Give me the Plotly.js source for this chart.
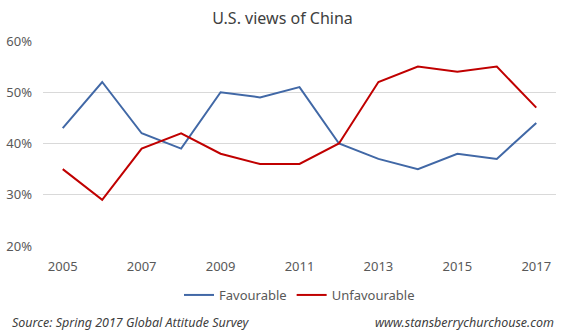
<!DOCTYPE html>
<html>
<head>
<meta charset="utf-8">
<script src="https://cdn.plot.ly/plotly-3.0.1.min.js"></script>
<style>html,body{margin:0;padding:0;background:#fff;}#chart{width:565px;height:330px;}</style>
</head>
<body>
<div id="chart"></div>
<script>
var years = [2005, 2006, 2007, 2008, 2009, 2010, 2011, 2012, 2013, 2014, 2015, 2016, 2017];
var favourable = [43, 52, 42, 39, 50, 49, 51, 40, 37, 35, 38, 37, 44];
var unfavourable = [35, 29, 39, 42, 38, 36, 36, 40, 52, 55, 54, 55, 47];
var yTicks = [20, 30, 40, 50, 60];
var yTickLabels = ['20%', '30%', '40%', '50%', '60%'];

var font = 'Noto Sans, Open Sans, sans-serif';
var traces = [
  {x: years, y: favourable, name: 'Favourable', type: 'scatter', mode: 'lines',
   line: {color: '#4168a6', width: 2}},
  {x: years, y: unfavourable, name: 'Unfavourable', type: 'scatter', mode: 'lines',
   line: {color: '#c00000', width: 2}}
];
var layout = {
  width: 565, height: 330,
  margin: {l: 43, r: 9, t: 41, b: 84},
  paper_bgcolor: '#fff', plot_bgcolor: '#fff',
  font: {family: font, color: '#595959', size: 13},
  title: {text: 'U.S. views of China', x: 0.5, xanchor: 'center', y: 1 - 18/330, yanchor: 'middle',
          font: {family: font, size: 16, color: '#404040'}},
  xaxis: {range: [2004.5, 2017.5], tick0: 2005, dtick: 2, showgrid: false, zeroline: false,
          showline: false, ticks: '', ticklabelstandoff: 11, tickfont: {size: 13, color: '#595959'}},
  yaxis: {range: [20, 60], tickvals: yTicks, ticktext: yTickLabels, showgrid: true, gridcolor: '#d9d9d9',
          gridwidth: 1, zeroline: false, showline: false, ticks: '', ticklabelstandoff: 10,
          tickfont: {size: 13, color: '#595959'}},
  showlegend: true,
  legend: {orientation: 'h', x: 0.5, xanchor: 'center', y: -0.239, yanchor: 'middle',
           font: {size: 13, color: '#595959'}, itemwidth: 30},
  annotations: [
    {text: '<i>Source: Spring 2017 Global Attitude Survey</i>', xref: 'paper', yref: 'paper',
     x: -43/513 + 10/513, xanchor: 'left', y: -(322-246)/205, yanchor: 'middle', showarrow: false,
     font: {family: font, size: 12.5, color: '#404040'}},
    {text: '<i>www.stansberrychurchouse.com</i>', xref: 'paper', yref: 'paper',
     x: 1, xanchor: 'right', y: -(322-246)/205, yanchor: 'middle', showarrow: false,
     font: {family: font, size: 12.5, color: '#404040'}}
  ]
};
Plotly.newPlot('chart', traces, layout, {displayModeBar: false, staticPlot: true});
</script>
</body>
</html>
